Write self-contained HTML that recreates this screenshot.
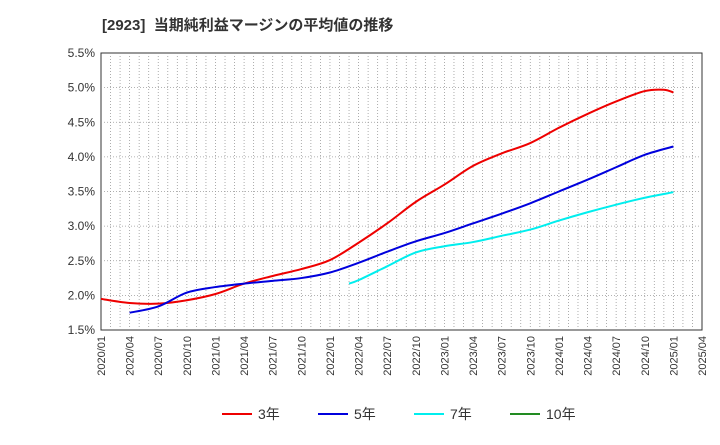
<!DOCTYPE html>
<html><head><meta charset="utf-8"><style>
body{margin:0;background:#fff;font-family:"Liberation Sans","Noto Sans CJK JP",sans-serif;}
svg text{font-family:"Liberation Sans","Noto Sans CJK JP",sans-serif;}
</style></head><body>
<svg id="c" width="720" height="440">
<text x="102" y="30" font-size="15" font-weight="bold" fill="#333" xml:space="preserve">[2923]  当期純利益マージンの平均値の推移</text>
</svg>
<script>
const xLabels=["2020/01","2020/04","2020/07","2020/10","2021/01","2021/04","2021/07","2021/10","2022/01","2022/04","2022/07","2022/10","2023/01","2023/04","2023/07","2023/10","2024/01","2024/04","2024/07","2024/10","2025/01","2025/04"];
const yTicks=[1.5,2.0,2.5,3.0,3.5,4.0,4.5,5.0,5.5];
const m3=[0,3,6,9,12,15,18,21,24,27,30,33,36,39,42,45,48,51,54,57,59,60];
const v3=[1.95,1.89,1.88,1.93,2.02,2.17,2.28,2.38,2.51,2.76,3.04,3.35,3.60,3.87,4.05,4.20,4.42,4.62,4.80,4.95,4.97,4.93];
const m5=[3,6,9,12,15,18,21,24,27,30,33,36,39,42,45,48,51,54,57,60];
const v5=[1.75,1.84,2.04,2.12,2.17,2.21,2.25,2.33,2.47,2.63,2.78,2.90,3.04,3.18,3.33,3.50,3.67,3.85,4.03,4.15];
const m7=[26,27,30,33,36,39,42,45,48,51,54,57,60];
const v7=[2.17,2.22,2.42,2.62,2.71,2.77,2.86,2.95,3.08,3.20,3.31,3.41,3.49];
const L=101,R=702,T=53,B=330;
const X=m=>L+(R-L)*m/63, Y=v=>B-(B-T)*(v-1.5)/4;
const svg=document.getElementById('c');const NS='http://www.w3.org/2000/svg';
function el(t,a){const e=document.createElementNS(NS,t);for(const k in a)e.setAttribute(k,a[k]);svg.appendChild(e);return e;}
const bg=el('rect',{x:L,y:T,width:R-L,height:B-T,fill:'#fff',stroke:'#333'});


for(let m=1;m<63;m++){const g=el('line',{x1:X(m),x2:X(m),y1:T,y2:B,stroke:'#999','stroke-dasharray':'1,2','stroke-width':0.8});

}
yTicks.forEach(v=>{if(v>1.5&&v<5.5){const g=el('line',{x1:L,x2:R,y1:Y(v),y2:Y(v),stroke:'#999','stroke-dasharray':'1,2','stroke-width':0.8});

}
const t=el('text',{x:L-6,y:Y(v)+4,'font-size':12,fill:'#333','text-anchor':'end'});t.textContent=v.toFixed(1)+'%';

});
xLabels.forEach((s,i)=>{const x=X(i*3);const t=el('text',{transform:`translate(${x+4},${B+6}) rotate(-90)`,'font-size':11,fill:'#333','text-anchor':'end'});t.textContent=s;

});
function path(ms,vs,c,name){const p=ms.map((m,i)=>[X(m),Y(vs[i])]);let d='M'+p[0][0]+','+p[0][1];
for(let i=0;i<p.length-1;i++){const p0=p[Math.max(0,i-1)],p1=p[i],p2=p[i+1],p3=p[Math.min(p.length-1,i+2)];
d+=` C${p1[0]+(p2[0]-p0[0])/6},${p1[1]+(p2[1]-p0[1])/6} ${p2[0]-(p3[0]-p1[0])/6},${p2[1]-(p3[1]-p1[1])/6} ${p2[0]},${p2[1]}`;}
const e=el('path',{d:d,fill:'none',stroke:c,'stroke-width':2});

}
path(m3,v3,'#ee0000','line-3y');path(m5,v5,'#0000dd','line-5y');path(m7,v7,'#00eeee','line-7y');
[['3年','#ee0000',222],['5年','#0000dd',318],['7年','#00eeee',414],['10年','#228b22',510]].forEach(a=>{
const l=el('line',{x1:a[2],x2:a[2]+30,y1:414,y2:414,stroke:a[1],'stroke-width':2});


const t=el('text',{x:a[2]+36,y:419,'font-size':14,fill:'#333'});t.textContent=a[0];

});
</script>
</body></html>
